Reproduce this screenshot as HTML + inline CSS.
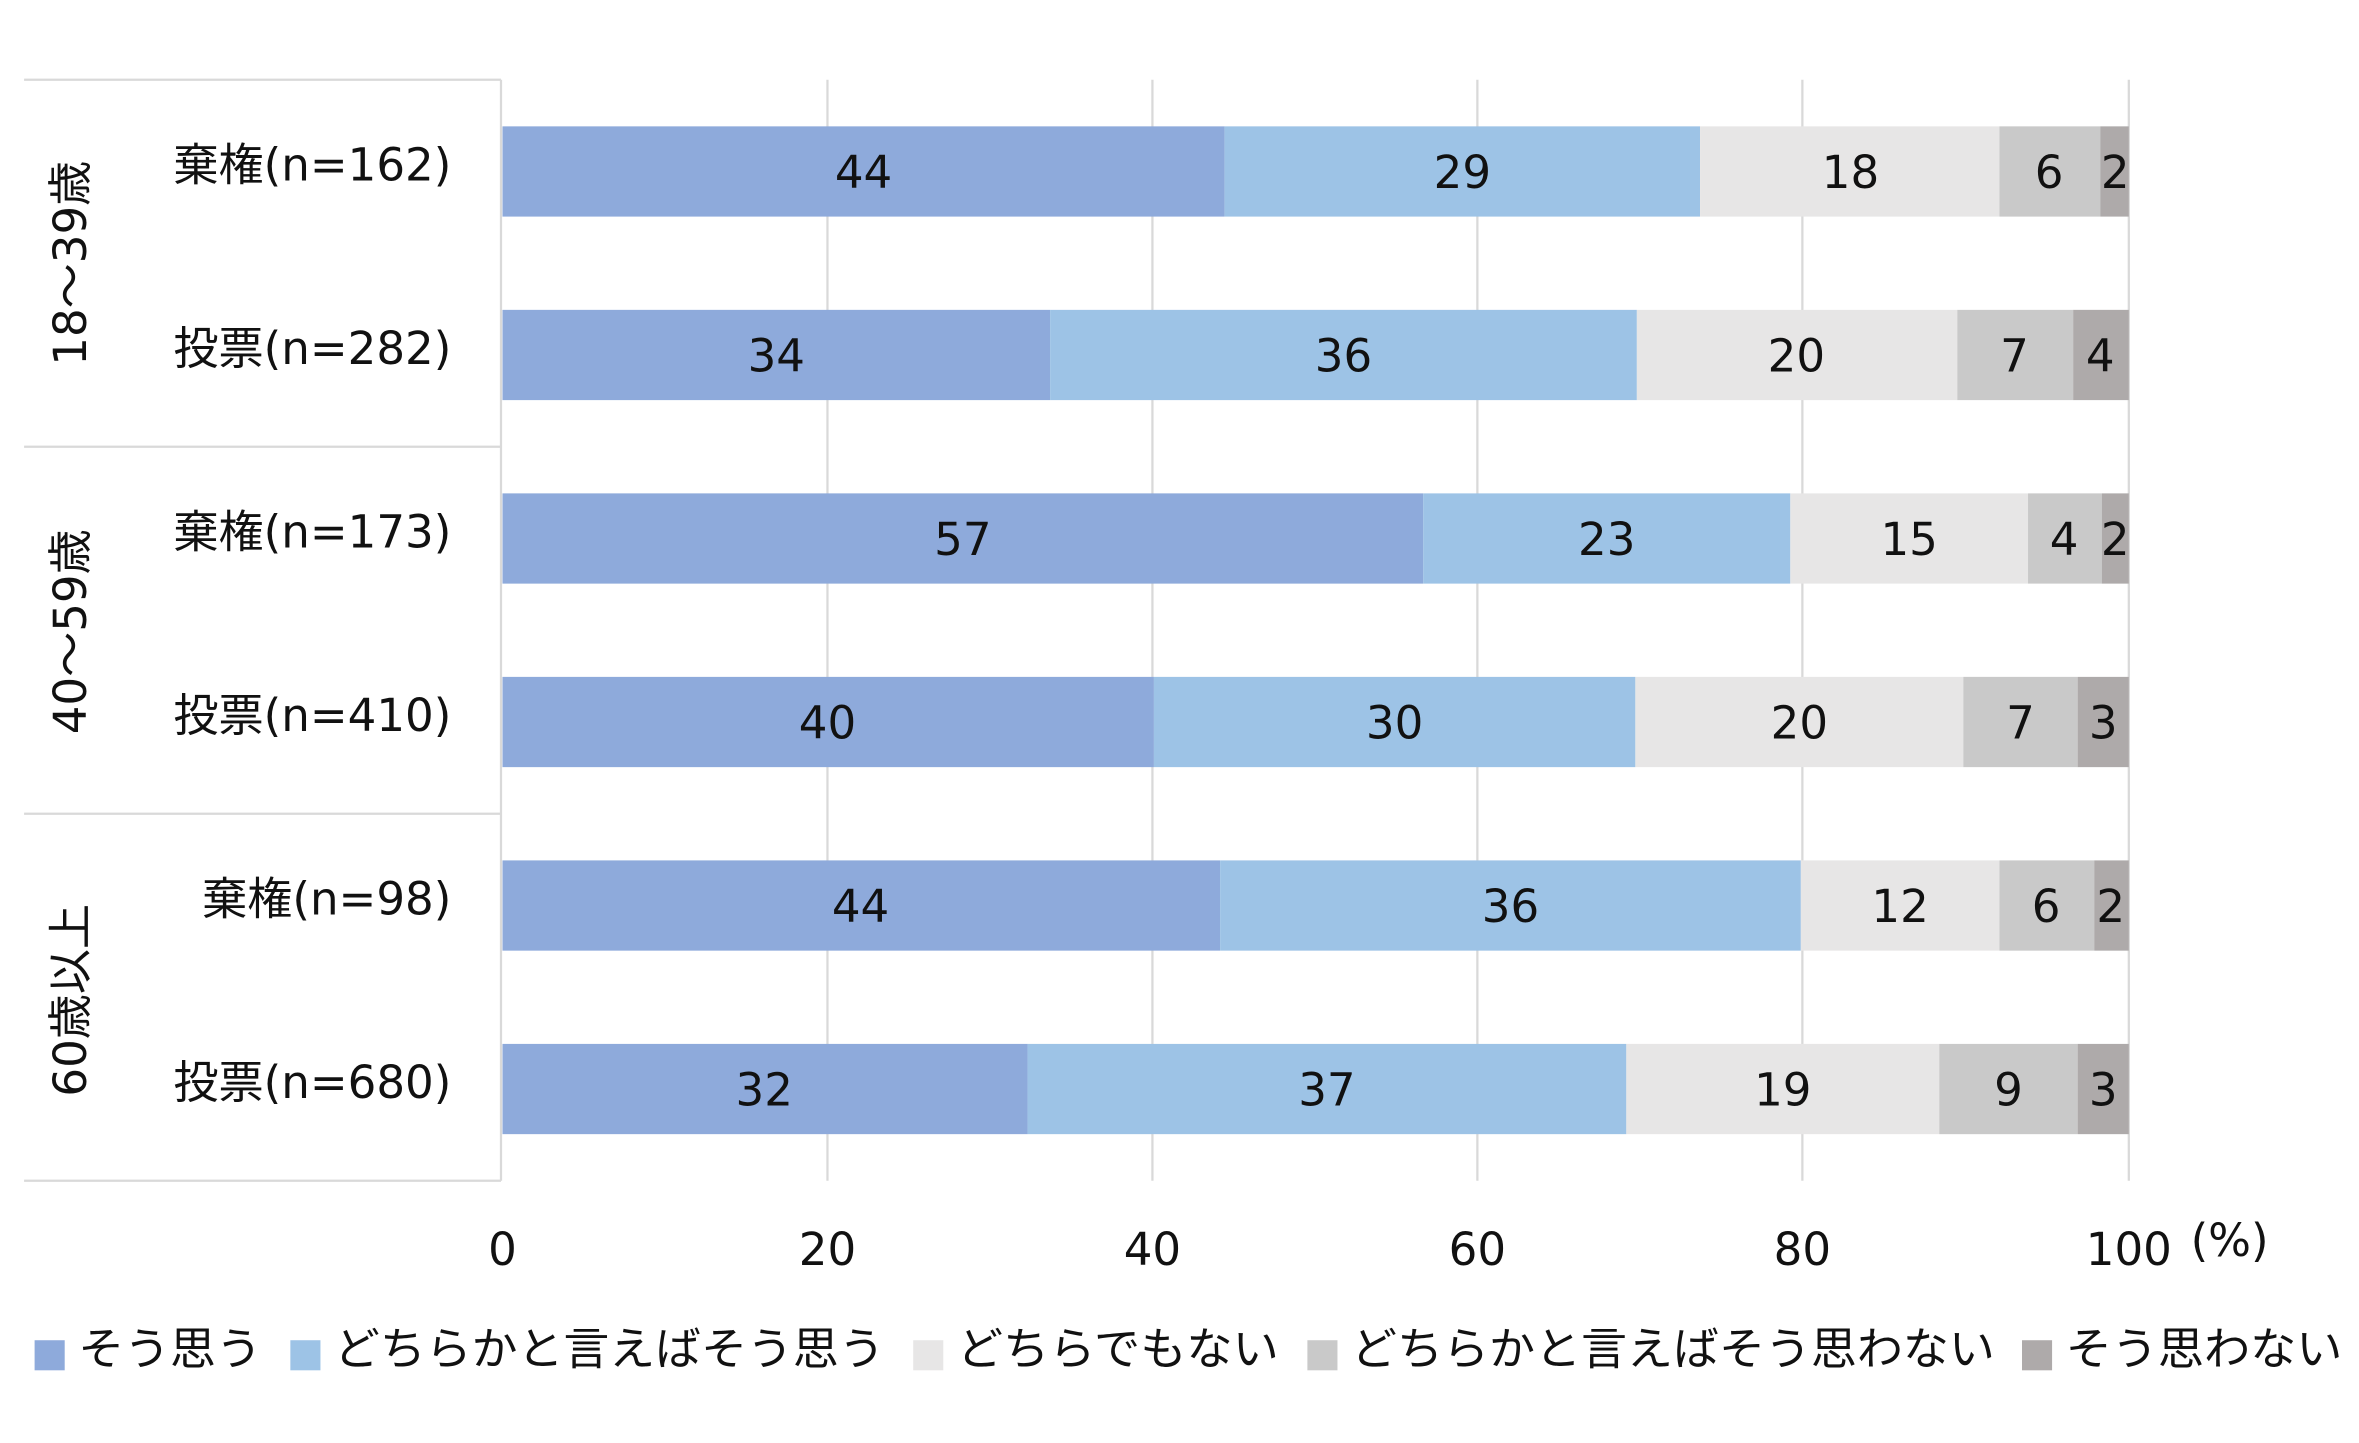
<!DOCTYPE html>
<html><head><meta charset="utf-8"><style>html,body{margin:0;padding:0;background:#fff;overflow:hidden}</style></head>
<body>
<svg width="2359" height="1438" viewBox="0 0 1568 956" preserveAspectRatio="none" xmlns="http://www.w3.org/2000/svg" font-family="'DejaVu Sans','Noto Sans CJK JP',sans-serif">
<g stroke="#d9d9d9" stroke-width="1.5">
<line x1="550" y1="53" x2="550" y2="785"/><line x1="766" y1="53" x2="766" y2="785"/>
<line x1="982" y1="53" x2="982" y2="785"/><line x1="1198" y1="53" x2="1198" y2="785"/>
<line x1="1415" y1="53" x2="1415" y2="785"/>
<line x1="16" y1="53" x2="333" y2="53"/><line x1="16" y1="297" x2="333" y2="297"/>
<line x1="16" y1="541" x2="333" y2="541"/><line x1="16" y1="785" x2="333" y2="785"/>
<line x1="333" y1="53" x2="333" y2="785"/>
</g>
<g>
<rect x="334" y="84" width="480" height="60" fill="#8eaadb"/><rect x="814" y="84" width="316" height="60" fill="#9dc3e6"/><rect x="1130" y="84" width="199" height="60" fill="#e7e6e6"/><rect x="1329" y="84" width="67" height="60" fill="#c9c9c9"/><rect x="1396" y="84" width="19" height="60" fill="#aeaaaa"/>
<rect x="334" y="206" width="364" height="60" fill="#8eaadb"/><rect x="698" y="206" width="390" height="60" fill="#9dc3e6"/><rect x="1088" y="206" width="213" height="60" fill="#e7e6e6"/><rect x="1301" y="206" width="77" height="60" fill="#c9c9c9"/><rect x="1378" y="206" width="37" height="60" fill="#aeaaaa"/>
<rect x="334" y="328" width="612" height="60" fill="#8eaadb"/><rect x="946" y="328" width="244" height="60" fill="#9dc3e6"/><rect x="1190" y="328" width="158" height="60" fill="#e7e6e6"/><rect x="1348" y="328" width="49" height="60" fill="#c9c9c9"/><rect x="1397" y="328" width="18" height="60" fill="#aeaaaa"/>
<rect x="334" y="450" width="433" height="60" fill="#8eaadb"/><rect x="767" y="450" width="320" height="60" fill="#9dc3e6"/><rect x="1087" y="450" width="218" height="60" fill="#e7e6e6"/><rect x="1305" y="450" width="76" height="60" fill="#c9c9c9"/><rect x="1381" y="450" width="34" height="60" fill="#aeaaaa"/>
<rect x="334" y="572" width="477" height="60" fill="#8eaadb"/><rect x="811" y="572" width="386" height="60" fill="#9dc3e6"/><rect x="1197" y="572" width="132" height="60" fill="#e7e6e6"/><rect x="1329" y="572" width="63" height="60" fill="#c9c9c9"/><rect x="1392" y="572" width="23" height="60" fill="#aeaaaa"/>
<rect x="334" y="694" width="349" height="60" fill="#8eaadb"/><rect x="683" y="694" width="398" height="60" fill="#9dc3e6"/><rect x="1081" y="694" width="208" height="60" fill="#e7e6e6"/><rect x="1289" y="694" width="92" height="60" fill="#c9c9c9"/><rect x="1381" y="694" width="34" height="60" fill="#aeaaaa"/>
</g>
<g font-size="30" fill="#111" text-anchor="middle">
<text x="574" y="125">44</text><text x="972" y="125">29</text><text x="1230" y="125">18</text><text x="1362" y="125">6</text><text x="1406" y="125">2</text>
<text x="516" y="247">34</text><text x="893" y="247">36</text><text x="1194" y="247">20</text><text x="1339" y="247">7</text><text x="1396" y="247">4</text>
<text x="640" y="369">57</text><text x="1068" y="369">23</text><text x="1269" y="369">15</text><text x="1372" y="369">4</text><text x="1406" y="369">2</text>
<text x="550" y="491">40</text><text x="927" y="491">30</text><text x="1196" y="491">20</text><text x="1343" y="491">7</text><text x="1398" y="491">3</text>
<text x="572" y="613">44</text><text x="1004" y="613">36</text><text x="1263" y="613">12</text><text x="1360" y="613">6</text><text x="1403" y="613">2</text>
<text x="508" y="735">32</text><text x="882" y="735">37</text><text x="1185" y="735">19</text><text x="1335" y="735">9</text><text x="1398" y="735">3</text>
</g>
<g font-size="30" fill="#111" text-anchor="end">
<text x="300" y="120">棄権(n=162)</text><text x="300" y="242">投票(n=282)</text>
<text x="300" y="364">棄権(n=173)</text><text x="300" y="486">投票(n=410)</text>
<text x="300" y="608">棄権(n=98)</text><text x="300" y="730">投票(n=680)</text>
</g>
<g font-size="30" fill="#111" text-anchor="middle">
<text transform="translate(57,175) rotate(-90)">18～39歳</text>
<text transform="translate(57,420) rotate(-90)">40～59歳</text>
<text transform="translate(57,665) rotate(-90)">60歳以上</text>
<text x="334" y="841">0</text><text x="550" y="841">20</text><text x="766" y="841">40</text>
<text x="982" y="841">60</text><text x="1198" y="841">80</text><text x="1415" y="841">100</text>
<text x="1482" y="835">(%)</text>
</g>
<g font-size="30" fill="#111">
<rect x="23" y="891" width="20" height="20" fill="#8eaadb"/><text x="52" y="907" textLength="122" lengthAdjust="spacingAndGlyphs">そう思う</text>
<rect x="193" y="891" width="20" height="20" fill="#9dc3e6"/><text x="222" y="907" textLength="366" lengthAdjust="spacingAndGlyphs">どちらかと言えばそう思う</text>
<rect x="607" y="891" width="20" height="20" fill="#e7e6e6"/><text x="636" y="907" textLength="214" lengthAdjust="spacingAndGlyphs">どちらでもない</text>
<rect x="869" y="891" width="20" height="20" fill="#c9c9c9"/><text x="898" y="907" textLength="428" lengthAdjust="spacingAndGlyphs">どちらかと言えばそう思わない</text>
<rect x="1344" y="891" width="20" height="20" fill="#aeaaaa"/><text x="1373" y="907" textLength="184" lengthAdjust="spacingAndGlyphs">そう思わない</text>
</g>
</svg>
</body></html>
